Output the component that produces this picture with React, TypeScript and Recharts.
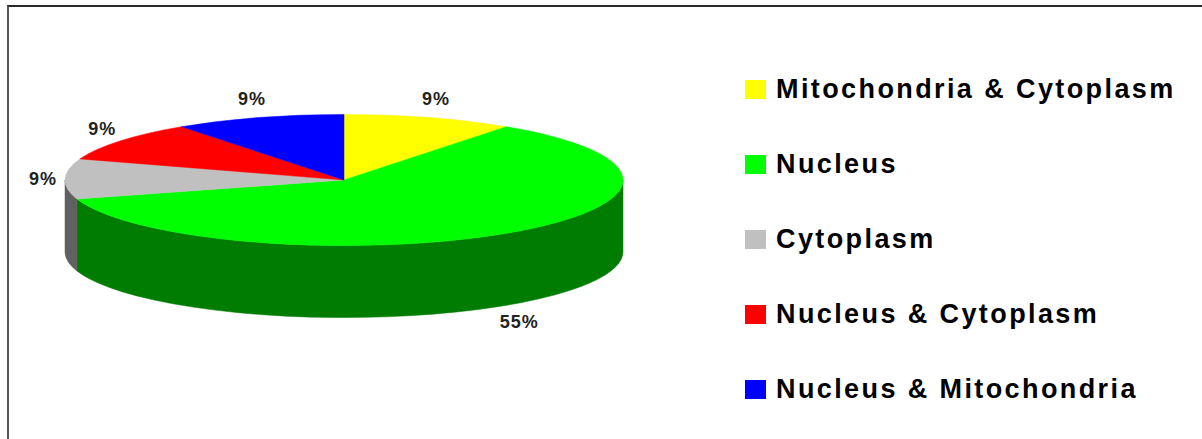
import React from "react";
import { PieChart, Pie, Cell, Legend } from "recharts";

const categories = [
  "Mitochondria & Cytoplasm",
  "Nucleus",
  "Cytoplasm",
  "Nucleus & Cytoplasm",
  "Nucleus & Mitochondria",
];
const shares = [9, 55, 9, 9, 9];
const topColors = ["#FFFF00", "#00FF00", "#C0C0C0", "#FF0000", "#0000FF"];
const sideColors = ["#808000", "#007C00", "#606060", "#800000", "#000080"];

const data = categories.map((name, i) => ({
  name,
  value: shares[i],
  side: sideColors[i],
}));

// flattening of the disc and height of its rim
const TILT = 0.235;
const DEPTH = 72;
const RAD = Math.PI / 180;

const Slice3D = (props: any) => {
  const { cx, cy, outerRadius, startAngle, endAngle, fill } = props;
  const side = props.side ?? props.payload?.side ?? "#666";
  const rx = outerRadius;
  const ry = outerRadius * TILT;
  const pt = (a: number, dy = 0) =>
    `${cx + rx * Math.cos(a * RAD)},${cy - ry * Math.sin(a * RAD) + dy}`;
  const hi = Math.max(startAngle, endAngle);
  const lo = Math.min(startAngle, endAngle);
  const large = hi - lo > 180 ? 1 : 0;

  // rim: only the part of the slice facing the viewer (lower half)
  const walls: string[] = [];
  for (let k = -2; k <= 1; k++) {
    const a = Math.max(lo, -180 + 360 * k);
    const b = Math.min(hi, 360 * k);
    if (b - a > 0.01) {
      walls.push(
        `M${pt(b)} A${rx},${ry} 0 0 1 ${pt(a)} L${pt(a, DEPTH)} A${rx},${ry} 0 0 0 ${pt(b, DEPTH)} Z`
      );
    }
  }

  return (
    <g>
      {walls.map((d, i) => (
        <path key={i} d={d} fill={side} stroke={side} strokeWidth={0.5} />
      ))}
      <path
        d={`M${cx},${cy} L${pt(hi)} A${rx},${ry} 0 ${large} 1 ${pt(lo)} Z`}
        fill={fill}
        stroke={fill}
        strokeWidth={0.5}
      />
    </g>
  );
};

const renderLabel = (props: any) => {
  const { cx, cy, midAngle, outerRadius, value } = props;
  const s = Math.sin(midAngle * RAD);
  const x = cx + (outerRadius + 22) * Math.cos(midAngle * RAD);
  const y = cy - (outerRadius * TILT + 20) * s + (s < -0.05 ? DEPTH : 0);
  return (
    <text
      x={x}
      y={y}
      textAnchor="middle"
      dominantBaseline="central"
      fontFamily="'Liberation Sans', Arial, sans-serif"
      fontWeight="bold"
      fontSize={18}
      letterSpacing={1}
      fill="#222"
    >
      {`${value}%`}
    </text>
  );
};

const renderLegend = (props: any) => {
  // keep the series order instead of the alphabetical one
  const items = [...(props.payload ?? [])].sort(
    (a: any, b: any) => categories.indexOf(a.value) - categories.indexOf(b.value)
  );
  return (
    <div>
      {items.map((entry: any, i: number) => (
        <div
          key={i}
          style={{ height: 75, display: "flex", alignItems: "center" }}
        >
          <span
            style={{
              display: "inline-block",
              width: 21,
              height: 19,
              background: entry.color,
              marginRight: 10,
            }}
          />
          <span
            style={{
              fontFamily: "'Liberation Sans', Arial, sans-serif",
              fontWeight: "bold",
              fontSize: 27,
              letterSpacing: 2.4,
              color: "#000",
              whiteSpace: "nowrap",
            }}
          >
            {entry.value}
          </span>
        </div>
      ))}
    </div>
  );
};

export default function App() {
  return (
    <div
      style={{
        position: "absolute",
        left: 0,
        top: 0,
        width: 1202,
        height: 439,
        background: "#fff",
        overflow: "hidden",
      }}
    >
      <div
        style={{
          position: "absolute",
          left: 7,
          top: 5,
          width: 1200,
          height: 440,
          borderTop: "2px solid #2a2a2a",
          borderLeft: "2px solid #555",
        }}
      />
      <PieChart
        width={1202}
        height={439}
        margin={{ top: 0, right: 0, bottom: 0, left: 0 }}
      >
        <Pie
          data={data}
          dataKey="value"
          nameKey="name"
          cx={344}
          cy={180}
          outerRadius={279}
          startAngle={90}
          endAngle={-270}
          stroke="none"
          shape={Slice3D}
          label={renderLabel}
          labelLine={false}
          isAnimationActive={false}
        >
          {data.map((d, i) => (
            <Cell key={d.name} fill={topColors[i]} />
          ))}
        </Pie>
        <Legend
          layout="vertical"
          content={renderLegend}
          wrapperStyle={{ position: "absolute", left: 745, top: 52, width: 450 }}
        />
      </PieChart>
    </div>
  );
}
